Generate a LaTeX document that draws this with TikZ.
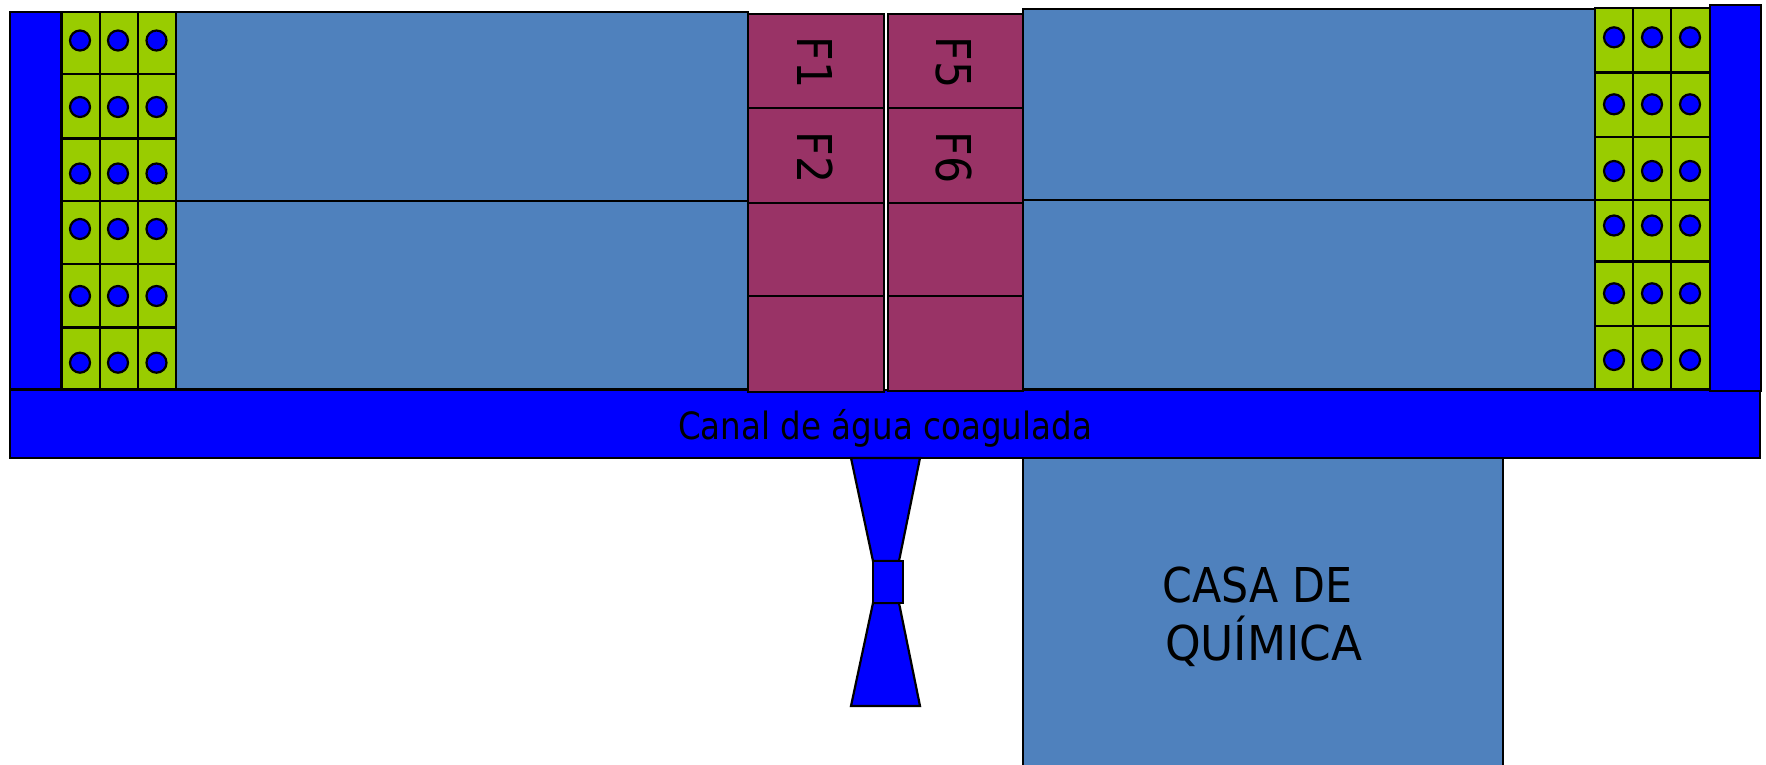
\documentclass[tikz,border=0pt]{standalone}
\usepackage{fontspec}
\setmainfont{DejaVu Sans}[FakeStretch=0.89]
\newfontfamily\canalfont{DejaVu Sans}[FakeStretch=0.866]
\newfontfamily\quimfont{DejaVu Sans}[FakeStretch=0.945]
\definecolor{purewater}{HTML}{0000FF}
\definecolor{steel}{HTML}{4F81BD}
\definecolor{leaf}{HTML}{99CC00}
\definecolor{plum}{HTML}{993366}
\tikzset{
  water/.style={fill=purewater,draw=black,line width=1.1pt,line join=miter},
  tank/.style={fill=steel,draw=black,line width=1pt},
  cell/.style={fill=leaf,draw=black,line width=1pt},
  filt/.style={fill=plum,draw=black,line width=1pt},
  dot/.style={fill=purewater,draw=black,line width=1.1pt},
  lbl/.style={inner sep=0pt,outer sep=0pt,anchor=base west,text=black},
  filtlbl/.style={lbl,rotate=-90,font=\fontsize{24}{28}\selectfont},
  biglbl/.style={lbl,font=\fontsize{24}{28}\selectfont}
}
\begin{document}
\begin{tikzpicture}[x=0.5pt,y=-0.5pt]
\useasboundingbox (0,0) rectangle (1766,765);
% canal
\draw[water] (10,390) rectangle (1760,458);
% side channels
\draw[water] (10,12) rectangle (61,389);
\draw[water] (1710,5) rectangle (1761,391);
% settling tanks
\draw[tank] (175.5,12) rectangle (748,201);
\draw[tank] (175.5,201) rectangle (748,389);
\draw[tank] (1023,9) rectangle (1595,200);
\draw[tank] (1023,200) rectangle (1595,388.5);
% left flocculators
\foreach \ya/\yb/\yc in {12/74.5/40.5,74.5/138.5/107,138.5/200.5/173.5,200.5/263.5/229,263.5/327.5/296,327.5/389/362.7}{
  \foreach \xa/\xb/\xc in {61.5/99.5/80,99.5/137.5/118,137.5/175.5/156.5}{
    \draw[cell] (\xa,\ya) rectangle (\xb,\yb);
    \draw[dot] (\xc,\yc) circle[radius=10];
  }
}
\draw[line width=1.8pt] (61.5,138.5) -- (175.5,138.5);
\draw[line width=1.8pt] (61.5,327.5) -- (175.5,327.5);
% right flocculators
\foreach \ya/\yb/\yc in {8/72.5/37.3,72.5/137/104.3,137/199.5/171,199.5/261.3/225.5,261.3/325.7/293.3,325.7/388.7/360}{
  \foreach \xa/\xb/\xc in {1595/1633/1614,1633/1671/1652,1671/1709.5/1690}{
    \draw[cell] (\xa,\ya) rectangle (\xb,\yb);
    \draw[dot] (\xc,\yc) circle[radius=10];
  }
}
\draw[line width=1.8pt] (1595,72.5) -- (1709.5,72.5);
\draw[line width=1.8pt] (1595,261.3) -- (1709.5,261.3);
% filters
\foreach \ya/\yb in {14.5/108.5,108.5/202.5,202.5/296,296/392}{
  \draw[filt] (748,\ya) rectangle (883.8,\yb);
}
\foreach \ya/\yb in {14/108,108/202.5,202.5/295.5,295.5/391}{
  \draw[filt] (887.6,\ya) rectangle (1023,\yb);
}
\node[filtlbl] (f1) at (797,37) {F1};
\node[filtlbl] (f2) at (797,132) {F2};
\node[filtlbl] (f5) at (936,37) {F5};
\node[filtlbl] (f6) at (936,132) {F6};
% canal label
\node[lbl,font=\canalfont\fontsize{18.8}{23}\selectfont] (canal) at (678,439) {Canal de água coagulada};
% Venturi
\draw[water] (851,458) -- (920,458) -- (899,561) -- (873,561) -- cycle;
\draw[water] (873,603) -- (899,603) -- (920,706) -- (851,706) -- cycle;
\draw[water] (873,561) rectangle (902.7,603);
% chemical house
\fill[steel] (1022.5,458) rectangle (1503,765);
\draw[black,line width=1pt] (1022.5,765) -- (1022.5,458) -- (1503,458) -- (1503,765);
\node[biglbl] (casa) at (1162.7,602.7) {CASA DE};
\node[biglbl,font=\quimfont\fontsize{24}{28}\selectfont] (quim) at (1165,660) {QUÍMICA};
\end{tikzpicture}
\end{document}
